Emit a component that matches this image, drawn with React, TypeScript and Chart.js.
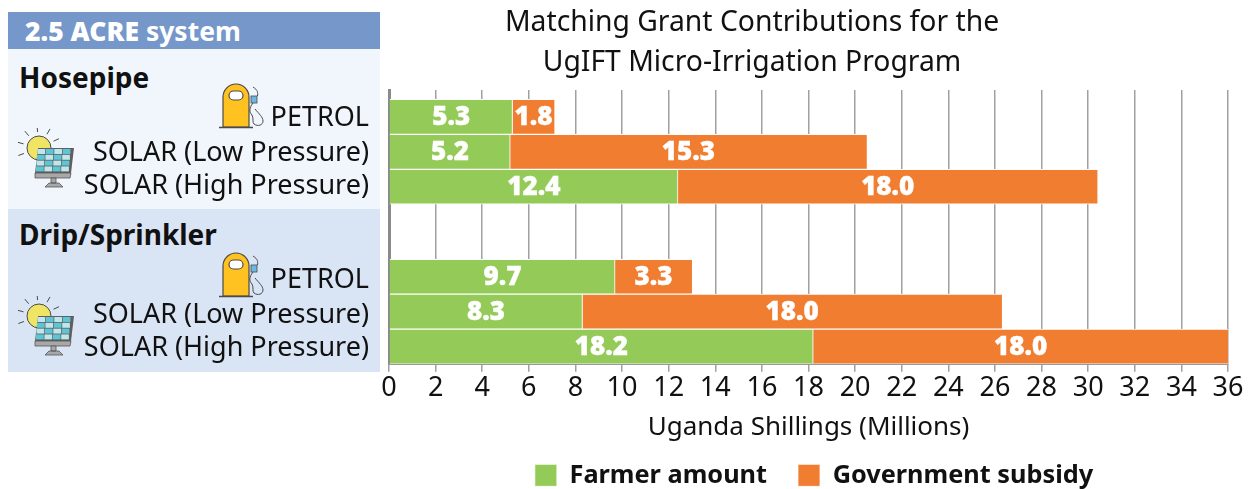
import React, { useEffect, useRef } from "react";
import { Chart, registerables } from "chart.js";

Chart.register(...registerables);

const rowLabels = ["PETROL", "SOLAR (Low Pressure)", "SOLAR (High Pressure)", "PETROL", "SOLAR (Low Pressure)", "SOLAR (High Pressure)"];
const rowPositions = [0, 1, 2, 4.58, 5.58, 6.58];
const labelNudge = [0.03, 0.03, 0, 0.1, 0.1, 0.06];
const farmerAmount = [5.3, 5.2, 12.4, 9.7, 8.3, 18.2];
const governmentSubsidy = [1.8, 15.3, 18.0, 3.3, 18.0, 18.0];
const xTickStep = 2;
const xMax = 36;
const titleLines = ["Matching Grant Contributions for the", "UgIFT Micro-Irrigation Program"];
const axisTitle = "Uganda Shillings (Millions)";
const FONT = "'Noto Sans', 'Open Sans', sans-serif";
const GREEN = "#94CB58";
const ORANGE = "#F07D30";

const barLabelPlugin = {
  id: "barLabels",
  afterDatasetsDraw(chart: any) {
    const { ctx, chartArea } = chart;
    ctx.save();
    ctx.fillStyle = "#fff";
    ctx.strokeStyle = "#fff";
    ctx.lineWidth = 0.4;
    ctx.font = `900 26px ${FONT}`;
    ctx.textAlign = "center";
    ctx.textBaseline = "middle";
    chart.data.datasets.forEach((ds: any, di: number) => {
      chart.getDatasetMeta(di).data.forEach((el: any, i: number) => {
        const text = ds.data[i].x.toFixed(1);
        const cx = (Math.min(el.x, chartArea.right) + el.base) / 2;
        ctx.fillText(text, cx, el.y + 1);
        ctx.strokeText(text, cx, el.y + 1);
      });
    });
    ctx.restore();
  },
};

const shiftPlugin = {
  id: "shiftBoxes",
  afterLayout(chart: any) {
    chart.titleBlock.left += 138;
    chart.titleBlock.right += 138;
    chart.legend.left += 200;
    chart.legend.right += 200;
  },
};

function Pump({ left, top }: { left: number; top: number }) {
  return (
    <svg style={{ position: "absolute", left, top }} width="50" height="48" viewBox="0 0 50 48">
      <path d="M4 45V15a13 13 0 0 1 26 0v30z" fill="#FFC220" stroke="#4a4a4a" strokeWidth="1.2" />
      <rect x="10" y="9" width="14" height="9" rx="4.5" fill="#fff" stroke="#4a4a4a" strokeWidth="1.2" />
      <path d="M0 45.5H34" stroke="#4a4a4a" strokeWidth="1.4" />
      <rect x="32" y="14" width="6" height="7" fill="#6FB7E3" stroke="#4a4a4a" strokeWidth="0.8" />
      <path d="M34 5c5 3 5 6 4.500 9M34 21c-4 5-4 9 -1 12c2 4 0 7 2 9c4 3 9 1 9-3c0-4-4-7-8-12" fill="none" stroke="#4a4a4a" strokeWidth="1" />
    </svg>
  );
}

function Solar({ left, top }: { left: number; top: number }) {
  const cells = [];
  for (let r = 0; r < 4; r++) {
    for (let c = 0; c < 4; c++) {
      cells.push(
        <rect key={`${r}-${c}`} x={19.5 + c * 8.4 - r * 0.5} y={21 + r * 5.8} width="7.700" height="5" fill={(r + c) % 2 ? "#5DC5D6" : "#BFE6EA"} />
      );
    }
  }
  const rays = [0, 35, 70, 105, 140, 175, 210].map((a) => {
    const t = ((a - 200 + 360) * Math.PI) / 180;
    return <line key={a} x1={21 + 16 * Math.cos(t)} y1={20 + 16 * Math.sin(t)} x2={21 + 22 * Math.cos(t)} y2={20 + 22 * Math.sin(t)} stroke="#4a4a4a" strokeWidth="1" />;
  });
  return (
    <svg style={{ position: "absolute", left, top }} width="58" height="64" viewBox="0 0 58 64">
      {rays}
      <circle cx="21" cy="20" r="12" fill="#F0E464" stroke="#4a4a4a" strokeWidth="1" />
      <path d="M20 20H56L53 45H17z" fill="#5f5f5f" />
      {cells}
      <path d="M17 45H53L52 50H17z" fill="#A8A8A8" stroke="#555" strokeWidth="0.8" />
      <path d="M33 50h5v5h-5zM27 59l4-4h10l4 4z" fill="#A8A8A8" stroke="#555" strokeWidth="0.8" />
    </svg>
  );
}

const groupStyle: React.CSSProperties = {
  position: "absolute",
  left: 19,
  fontFamily: FONT,
  fontWeight: 700,
  fontSize: 28,
  lineHeight: "32px",
  color: "#111",
};

export default function App() {
  const ref = useRef<HTMLCanvasElement>(null);
  useEffect(() => {
    const chart = new Chart(ref.current!, {
      type: "bar",
      data: {
        datasets: [
          {
            label: "Farmer amount",
            data: rowPositions.map((y, i) => ({ x: farmerAmount[i], y })),
            backgroundColor: GREEN,
            borderColor: "#fff",
            borderWidth: { right: 1, top: 1, bottom: 1 },
            barThickness: 35,
          },
          {
            label: "Government subsidy",
            data: rowPositions.map((y, i) => ({ x: governmentSubsidy[i], y })),
            backgroundColor: ORANGE,
            borderColor: "#fff",
            borderWidth: { left: 1, top: 1, bottom: 1 },
            barThickness: 35,
          },
        ],
      } as any,
      options: {
        indexAxis: "y",
        responsive: false,
        animation: false,
        layout: { padding: { left: 0, right: 30, top: 0, bottom: -9 } },
        scales: {
          x: {
            type: "linear",
            stacked: true,
            min: 0,
            max: xMax,
            border: { color: "#999", width: 2 },
            grid: { color: "#a0a0a0", lineWidth: 1.5, tickLength: 8, drawOnChartArea: true },
            ticks: { stepSize: xTickStep, color: "#111", font: { family: FONT, size: 27 }, padding: 0, maxRotation: 0, autoSkip: false },
            title: { display: true, text: axisTitle, color: "#111", font: { family: FONT, size: 26 }, padding: { top: 8, bottom: -11.6 } },
          },
          y: {
            type: "linear",
            stacked: true,
            reverse: true,
            offset: false,
            min: -0.77,
            max: 7.07,
            border: { color: "#8a8a8a", width: 3 },
            grid: { display: false },
            afterBuildTicks(scale: any) {
              scale.ticks = rowPositions.map((value, i) => ({ value: value + labelNudge[i] }));
            },
            afterFit(scale: any) {
              scale.width = 389;
            },
            ticks: {
              color: "#111",
              font: { family: FONT, size: 27 },
              padding: 12,
              autoSkip: false,
              callback(_v: any, i: number) {
                return rowLabels[i];
              },
            },
          },
        },
        plugins: {
          title: {
            display: true,
            text: titleLines,
            color: "#111",
            font: { family: FONT, size: 28.3, weight: "normal", lineHeight: 1.4 },
            padding: { top: 3, bottom: 7.8 },
          },
          legend: {
            position: "bottom",
            labels: {
              boxWidth: 22,
              boxHeight: 22,
              padding: 31,
              color: "#111",
              font: { family: FONT, size: 25.3, weight: "bold" },
            },
          },
          tooltip: { enabled: false },
        },
      } as any,
      plugins: [barLabelPlugin, shiftPlugin],
    });
    return () => chart.destroy();
  }, []);
  return (
    <div style={{ position: "absolute", left: 0, top: 0, width: 1258, height: 489, background: "#fff", overflow: "hidden" }}>
      <div style={{ position: "absolute", left: 8, top: 12, width: 372, height: 37, background: "#7597CA", color: "#fff", fontFamily: FONT, fontSize: 26.5, lineHeight: "38px", paddingLeft: 17, boxSizing: "border-box" }}>
        <b style={{ fontWeight: 900 }}>2.5 ACRE</b> <span style={{ fontWeight: 700 }}>system</span>
      </div>
      <div style={{ position: "absolute", left: 8, top: 49, width: 372, height: 160, background: "#F1F6FC" }} />
      <div style={{ position: "absolute", left: 8, top: 209, width: 372, height: 163, background: "#D9E5F5" }} />
      <div style={{ ...groupStyle, top: 61 }}>Hosepipe</div>
      <div style={{ ...groupStyle, top: 218 }}>Drip/Sprinkler</div>
      <Pump left={219} top={82} />
      <Pump left={219} top={251} />
      <Solar left={18} top={128} />
      <Solar left={18} top={296} />
      <canvas ref={ref} width={1258} height={489} style={{ position: "absolute", left: 0, top: 0, display: "block" }} />
    </div>
  );
}
